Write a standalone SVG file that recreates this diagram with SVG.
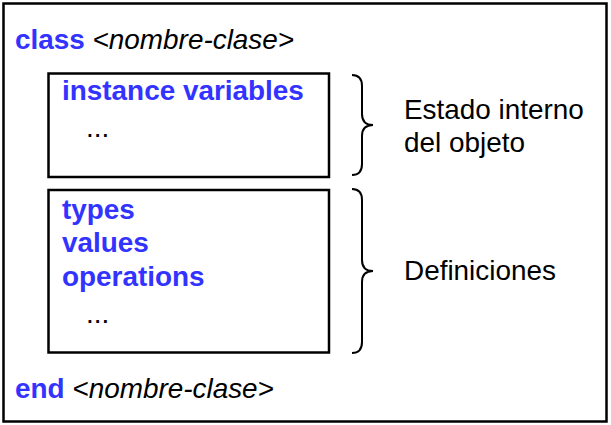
<svg xmlns="http://www.w3.org/2000/svg" width="611" height="425" viewBox="0 0 611 425">
<style>
.t{font-family:"Liberation Sans",Arial,sans-serif;font-size:27.9px;fill:#000}
.k{font-weight:bold;fill:#3333ff}
.i{font-style:italic}
.box{fill:#fff;stroke:#000;stroke-width:2.5}
.brace{fill:none;stroke:#000;stroke-width:2}
</style>
<rect x="0" y="0" width="611" height="425" fill="#fff"/>
<g id="class">
<rect class="box" x="3.5" y="3.5" width="603" height="418"/>
<text class="t" x="15" y="49"><tspan class="k">class</tspan> <tspan class="i">&lt;nombre-clase&gt;</tspan></text>
<text class="t" x="15" y="398"><tspan class="k">end</tspan> <tspan class="i">&lt;nombre-clase&gt;</tspan></text>
</g>
<g id="instance">
<rect class="box" x="48.5" y="73.5" width="280.5" height="103.5"/>
<text class="t k" x="62" y="100">instance variables</text>
<text class="t" x="86" y="137">...</text>
</g>
<g id="definitions">
<rect class="box" x="48.5" y="190" width="280.5" height="162.5"/>
<text class="t k" x="62" y="219">types</text>
<text class="t k" x="62" y="252">values</text>
<text class="t k" x="62" y="286">operations</text>
<text class="t" x="86" y="323">...</text>
</g>
<g id="connectors">
<path class="brace" d="M352,75 Q362,75 362,86 L362,114 Q362,125 373,125 Q362,125 362,136 L362,164 Q362,175 352,175"/>
<path class="brace" d="M352,189 Q362,189 362,200 L362,260 Q362,271 373,271 Q362,271 362,282 L362,342 Q362,353 352,353"/>
</g>
<g id="label-estado">
<text class="t" x="404" y="119">Estado interno</text>
<text class="t" x="404" y="152">del objeto</text>
</g>
<g id="label-def">
<text class="t" x="404" y="280">Definiciones</text>
</g>
</svg>
